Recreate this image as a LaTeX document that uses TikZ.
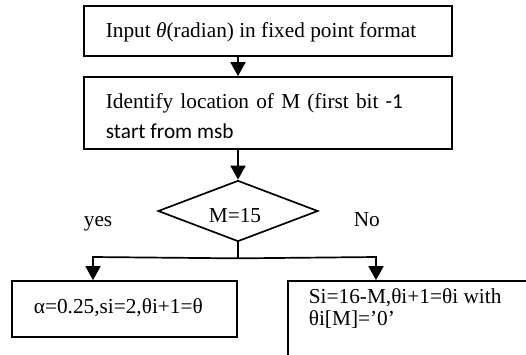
\documentclass[tikz,border=0pt]{standalone}
\usepackage{fontspec}
\setmainfont{Liberation Serif}
\newfontfamily\carlito{Carlito}
\usetikzlibrary{shapes.geometric,arrows.meta}

\begin{document}
\begin{tikzpicture}[x=1pt,y=-1pt,line width=1.7pt,
  txt/.style={font=\fontsize{21.3}{25}\selectfont},
  line/.style={txt,anchor=base west,inner sep=0pt},
  box/.style={draw,rectangle,inner sep=0pt},
  arr/.style={-{Triangle[width=15pt,length=14pt]}}]
\useasboundingbox (0,0) rectangle (526,354);
\clip (0,0) rectangle (526,354);

% process boxes
\node[box,minimum width=368pt,minimum height=50pt] (inp) at (268,31) {};
\node[line] (inptext) at (105,37) {Input \textit{θ}(radian) in fixed point format};
\node[box,minimum width=368pt,minimum height=72pt] (loc) at (268,113) {};
\node[line] (loctextA) at (105,108) {\spaceskip=7.2pt Identify location of M (first bit {\carlito -1}};
\node[line] (loctextB) at (105,138) {\carlito start from msb};

% decision
\node[draw,diamond,aspect=2.6,minimum width=160pt,minimum height=61pt,inner sep=0pt] (dec) at (238,211) {};
\node[line] (dectext) at (208,222) {M=15};
\node[line] (yes) at (83,226) {yes};
\node[line] (no) at (353,226) {No};

% outcome boxes
\node[box,minimum width=225pt,minimum height=56pt] (ybox) at (124.5,309) {};
\node[line] (ytext) at (33,313) {α=0.25,si=2,θi+1=θ};
\node[box,minimum width=260pt,minimum height=100pt] (nbox) at (418,331) {};
\node[line] (ntextA) at (308,303) {Si=16-M,θi+1=θi with};
\node[line] (ntextB) at (308,325) {θi[M]=’0’};

% connectors
\draw[arr] (inp.south -| dec.north) -- (loc.north -| dec.north);
\draw[arr] (loc.south -| dec.north) -- (dec.north);
\draw (dec.south) -- ++(0,16) coordinate (split);
\coordinate (yl) at (93,257);
\coordinate (nr) at (376,257);
\draw[arr] (split) -- (yl) -- (yl |- ybox.north);
\draw[arr] (split) -- (nr) -- (nr |- nbox.north);
\end{tikzpicture}
\end{document}
